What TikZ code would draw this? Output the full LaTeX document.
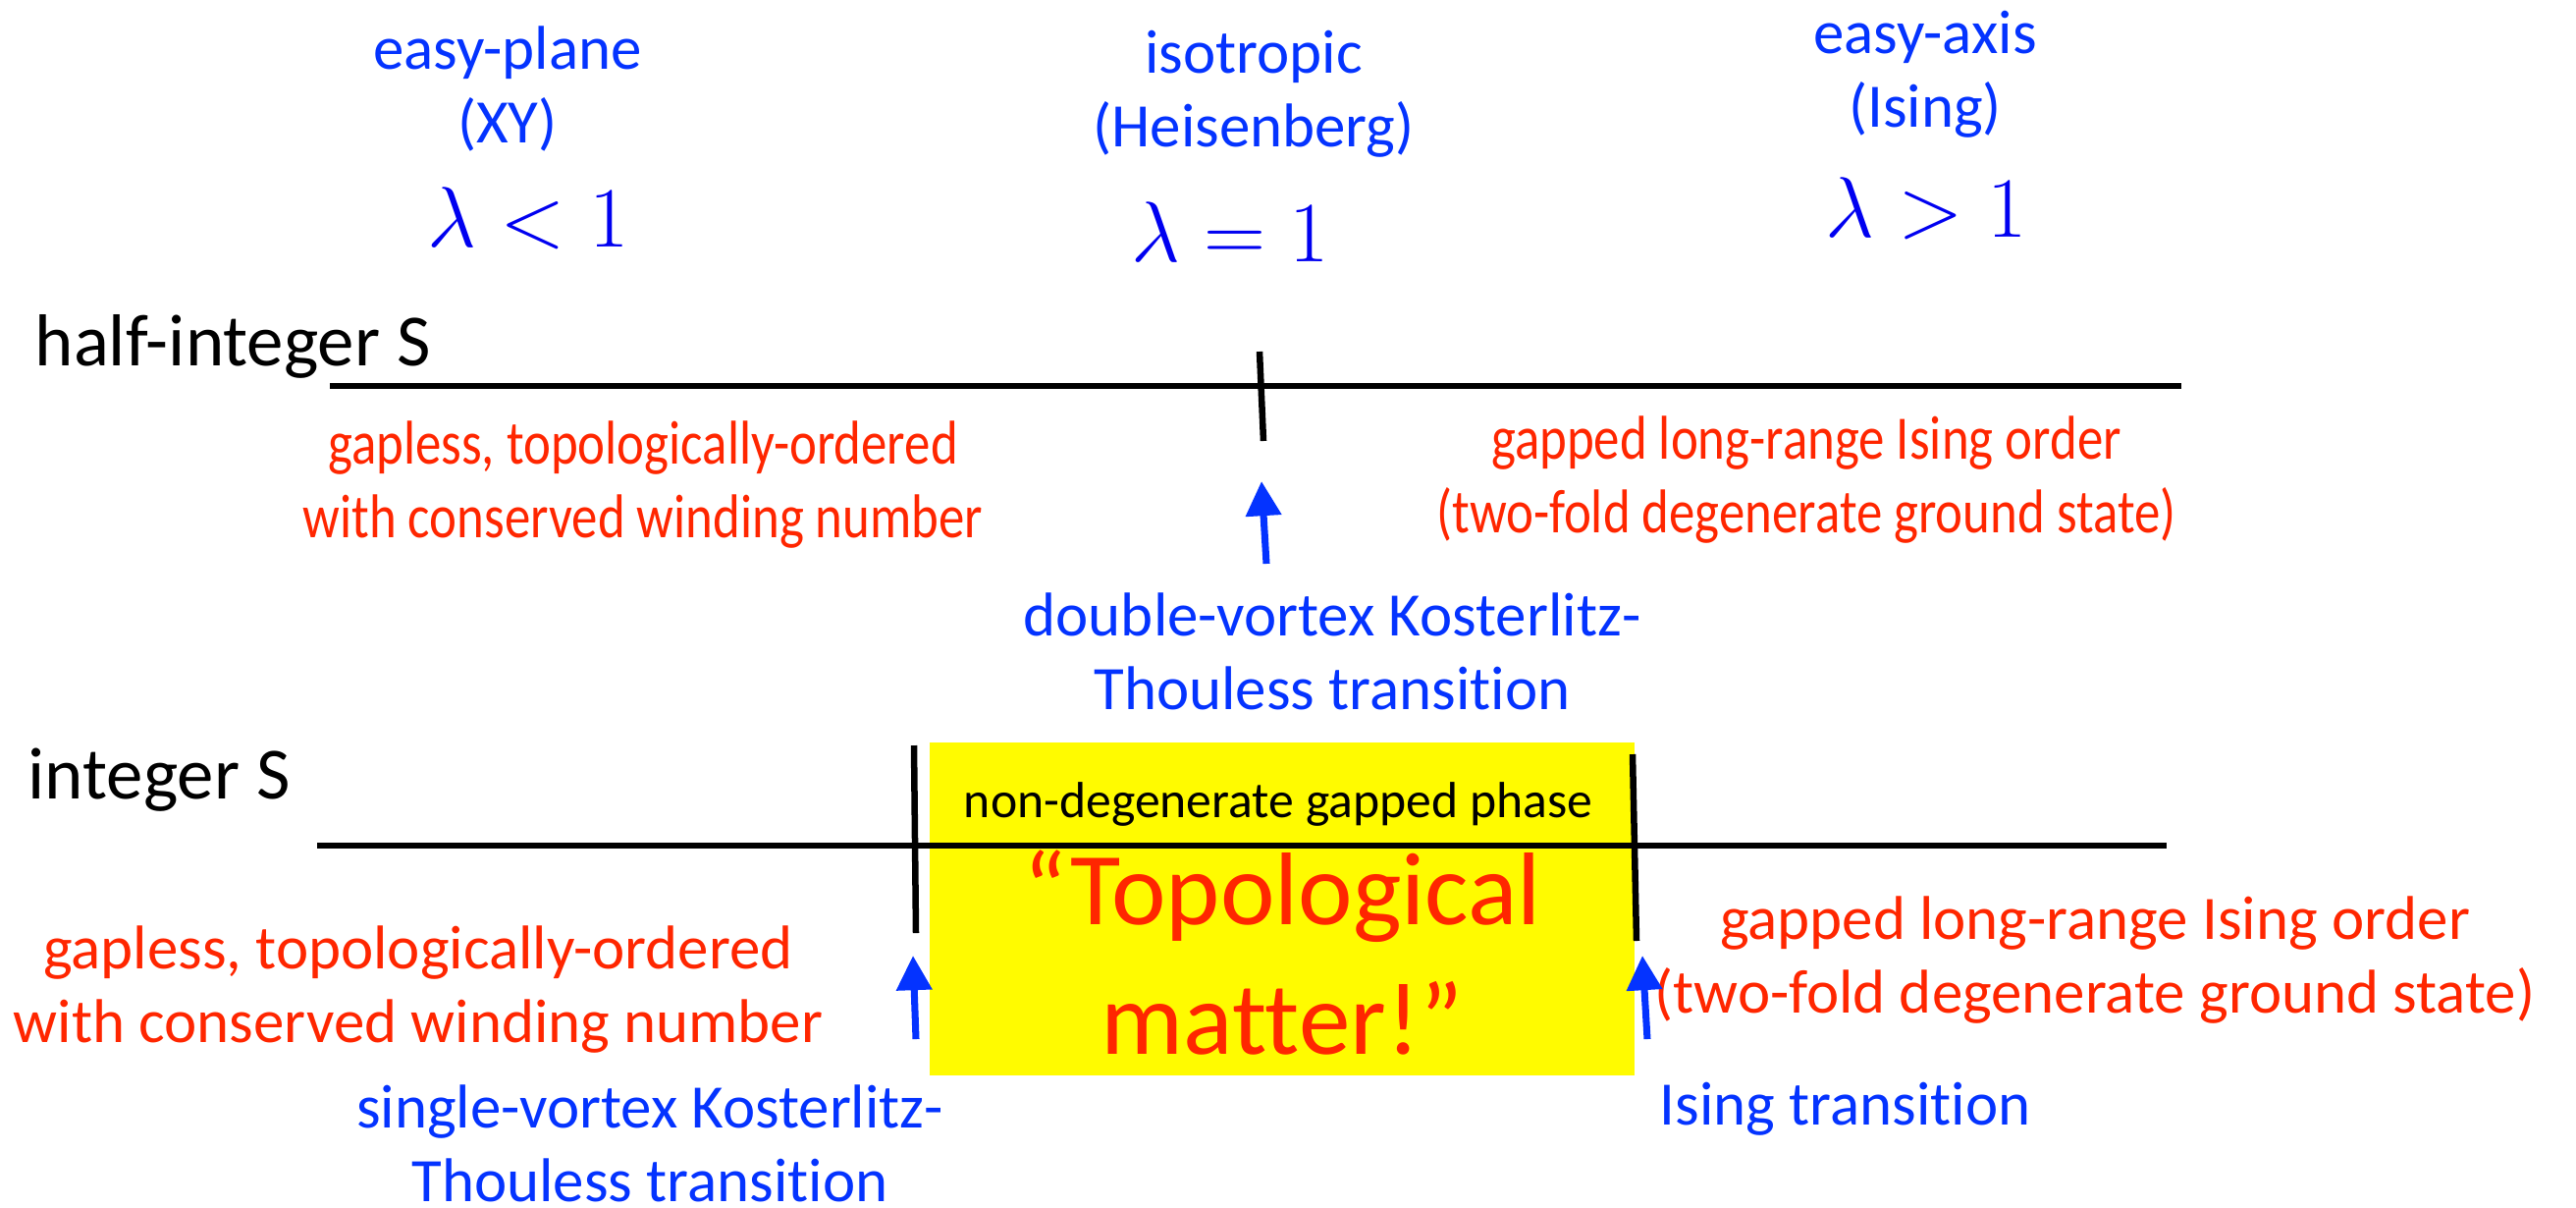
\documentclass[tikz,border=0pt]{standalone}
\usepackage{fontspec}
\setmainfont{Carlito}[Ligatures={NoCommon}]
\newfontfamily\narrowfont{Carlito}[FakeStretch=0.84,Ligatures={NoCommon}]
\usetikzlibrary{arrows.meta,positioning}

\definecolor{phaseRed}{RGB}{255,38,0}
\definecolor{labelBlue}{RGB}{4,51,255}
\definecolor{mathBlue}{RGB}{0,0,240}
\definecolor{gapYellow}{RGB}{255,251,0}

\begin{document}
\begin{tikzpicture}[x=0.01cm,y=-0.01cm,
    every node/.style={inner sep=0pt},
    bodyfont/.style={font=\fontsize{17.9pt}{21.1pt}\selectfont},
    redtext/.style={bodyfont,text=phaseRed,align=center},
    narrowred/.style={redtext,font=\fontsize{17.9pt}{21.1pt}\selectfont\narrowfont},
    bluetext/.style={bodyfont,text=labelBlue,align=center},
    spinlabel/.style={font=\fontsize{21.3pt}{25pt}\selectfont},
    lambdalabel/.style={text=mathBlue,font=\fontsize{27pt}{32pt}\selectfont},
    phaseline/.style={line width=1.85pt},
    trarrow/.style={draw=labelBlue,line width=2pt,-{Triangle[width=10pt,length=10pt]}}]
  \useasboundingbox (0,0) rectangle (2624,1229);

  % anisotropy regimes (base = last line)
  \node[bluetext,anchor=base] (plane) at (517,145) {easy-plane\\(XY)};
  \node[lambdalabel,anchor=base] (lamless) at (538,251) {$\lambda<1$};
  \node[bluetext,anchor=base] (iso) at (1277,149) {isotropic\\(Heisenberg)};
  \node[lambdalabel,anchor=base] (lameq) at (1253,266) {$\lambda=1$};
  \node[bluetext,anchor=base] (easyaxis) at (1961,129) {easy-axis\\(Ising)};
  \node[lambdalabel,anchor=base] (lamgt) at (1962,241) {$\lambda>1$};

  % half-integer spin
  \node[spinlabel,anchor=base west] (half) at (35,372) {half-integer S};
  \coordinate (h0) at (336,393);
  \coordinate (h1) at (2222,393);
  \coordinate (ht0) at (1283,358);
  \coordinate (ht1) at (1287,449);
  \draw[phaseline] (h0) -- (h1);
  \draw[phaseline] (ht0) -- (ht1);
  \node[narrowred,anchor=base] (hgapless) at (655,547)
    {gapless, topologically-ordered\\with conserved winding number};
  \node[narrowred,anchor=base] (hising) at (1840,542)
    {gapped long-range Ising order\\(two-fold degenerate ground state)};
  \coordinate (ha0) at (1290,574);
  \coordinate (ha1) at (1285,490);
  \draw[trarrow] (ha0) -- (ha1);
  \node[bluetext,anchor=base] (hkt) at (1357,722)
    {double-vortex Kosterlitz-\\Thouless transition};

  % integer spin
  \fill[gapYellow] (947,756) rectangle (1665,1095);
  \node[anchor=base,font=\fontsize{14.7pt}{17pt}\selectfont] (ndg) at (1302,832)
    {non-degenerate gapped phase};
  \node[redtext,anchor=base,font=\fontsize{29.9pt}{37.3pt}\selectfont] (topo) at (1306,1073)
    {“Topological\\matter!”};
  \node[spinlabel,anchor=base west] (int) at (28,813) {integer S};
  \coordinate (i0) at (323,861);
  \coordinate (i1) at (2207,861);
  \coordinate (il0) at (931,759);
  \coordinate (il1) at (933,950);
  \coordinate (ir0) at (1663,768);
  \coordinate (ir1) at (1667,958);
  \draw[phaseline] (i0) -- (i1);
  \draw[phaseline] (il0) -- (il1);
  \draw[phaseline] (ir0) -- (ir1);
  \node[redtext,anchor=base] (igapless) at (426,1061)
    {gapless, topologically-ordered\\with conserved winding number};
  \node[redtext,anchor=base] (iising) at (2134,1031)
    {gapped long-range Ising order\\(two-fold degenerate ground state)};
  \coordinate (la0) at (933,1058);
  \coordinate (la1) at (930,973);
  \coordinate (ra0) at (1678,1058);
  \coordinate (ra1) at (1673,973);
  \draw[trarrow] (la0) -- (la1);
  \draw[trarrow] (ra0) -- (ra1);
  \node[bluetext,anchor=base] (ikt) at (662,1223)
    {single-vortex Kosterlitz-\\Thouless transition};
  \node[bluetext,anchor=base west] (isingtr) at (1690,1145) {Ising transition};
\end{tikzpicture}
\end{document}
